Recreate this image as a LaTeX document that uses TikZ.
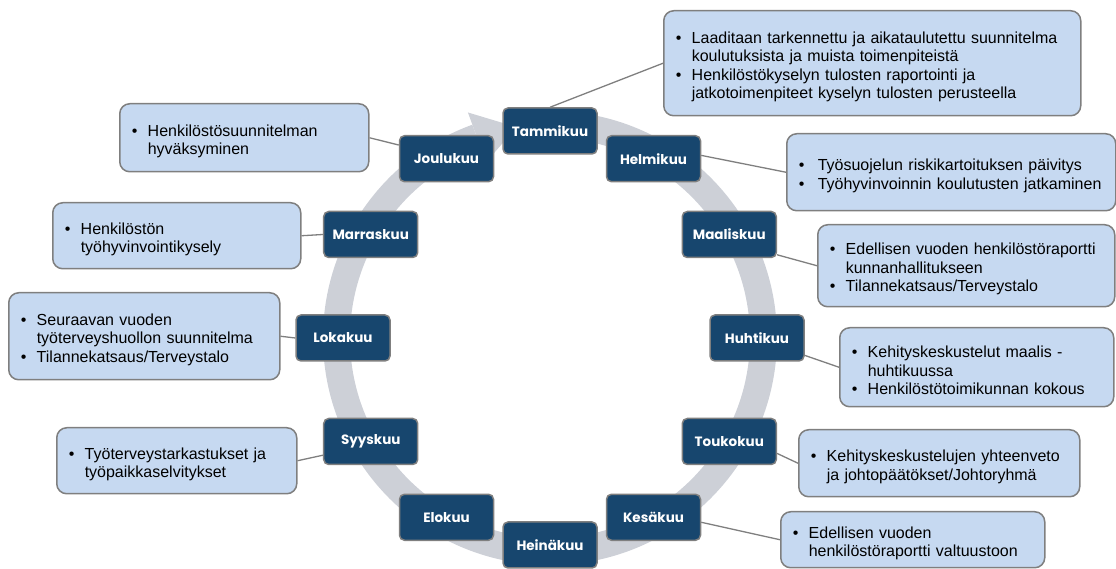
\documentclass[tikz,border=0pt]{standalone}
\usepackage{fontspec}
\setmainfont{Liberation Sans}
\newfontfamily\monthfont{Poppins}
\usetikzlibrary{calc}
\definecolor{monthblue}{HTML}{17466E}
\definecolor{calloutfill}{HTML}{C6D9F1}
\definecolor{edgegray}{HTML}{7F7F7F}
\definecolor{ringgray}{HTML}{CDD0D7}
\newcommand{\bitem}[1]{\par\hangindent=16pt\hangafter=1\noindent\makebox[16pt][l]{•}#1\par}
\pgfdeclarelayer{bg}
\pgfdeclarelayer{links}
\pgfsetlayers{bg,links,main}
\tikzset{
  month/.style={draw=edgegray, line width=1.5pt, fill=monthblue, rounded corners=5pt,
    minimum width=94pt, minimum height=46pt, inner sep=0pt, text=white,
    font=\monthfont\bfseries\fontsize{13.5}{16}\selectfont},
  callout/.style={draw=edgegray, line width=1.5pt, fill=calloutfill, rounded corners=10pt,
    inner xsep=12pt, inner ysep=0pt, align=left, anchor=north west,
    font=\fontsize{16}{18.5}\selectfont},
  link/.style={draw=edgegray, line width=1.3pt},
  ring/.style={draw=ringgray, line width=27pt},
  ringhead/.style={fill=ringgray, draw=none}
}
\begin{document}
\begin{tikzpicture}[x=1pt,y=1pt]
\useasboundingbox (0,0) rectangle (1116,569);
\coordinate (C) at (550,231);
% months
\node[month] (mTam) at ($(C)+(90:207)$) {Tammikuu};
\node[month] (mHel) at ($(C)+(60:207)$) {Helmikuu};
\node[month] (mMaa) at ($(C)+(30:207)$) {Maaliskuu};
\node[month] (mHuh) at ($(C)+(0:207)$) {Huhtikuu};
\node[month] (mTou) at ($(C)+(-30:207)$) {Toukokuu};
\node[month] (mKes) at ($(C)+(-60:207)$) {Kesäkuu};
\node[month] (mHei) at ($(C)+(-90:207)$) {Heinäkuu};
\node[month] (mElo) at ($(C)+(-120:207)$) {Elokuu};
\node[month] (mSyy) at ($(C)+(-150:207)$) {Syyskuu};
\node[month] (mLok) at ($(C)+(180:207)$) {Lokakuu};
\node[month] (mMar) at ($(C)+(150:207)$) {Marraskuu};
\node[month] (mJou) at ($(C)+(120:207)$) {Joulukuu};
% callouts
\node[callout, minimum width=417pt, minimum height=105pt, text width=393pt] (cTam) at (663,559)
  {\bitem{Laaditaan tarkennettu ja aikataulutettu suunnitelma\newline koulutuksista ja muista toimenpiteistä}
   \bitem{Henkilöstökyselyn tulosten raportointi ja\newline jatkotoimenpiteet kyselyn tulosten perusteella}};
\node[callout, minimum width=329pt, minimum height=77pt, text width=305pt, inner xsep=12pt] (cHel) at (786,436)
  {\bitem{\hspace*{3pt}Työsuojelun riskikartoituksen päivitys}
   \bitem{\hspace*{3pt}Työhyvinvoinnin koulutusten jatkaminen}};
\node[callout, minimum width=297pt, minimum height=82pt, text width=273pt] (cMaa) at (817,345)
  {\bitem{Edellisen vuoden henkilöstöraportti\newline kunnanhallitukseen}
   \bitem{Tilannekatsaus/Terveystalo}};
\node[callout, minimum width=274pt, minimum height=79pt, text width=250pt] (cHuh) at (839,242)
  {\bitem{Kehityskeskustelut maalis -\newline huhtikuussa}
   \bitem{Henkilöstötoimikunnan kokous}};
\node[callout, minimum width=281pt, minimum height=67pt, text width=257pt] (cTou) at (798,140)
  {\bitem{Kehityskeskustelujen yhteenveto\newline ja johtopäätökset/Johtoryhmä}};
\node[callout, minimum width=264pt, minimum height=56pt, text width=240pt] (cKes) at (780,58)
  {\bitem{Edellisen vuoden\newline henkilöstöraportti valtuustoon}};
\node[callout, minimum width=271pt, minimum height=87pt, text width=247pt] (cLok) at (8,277)
  {\bitem{Seuraavan vuoden\newline työterveyshuollon suunnitelma}
   \bitem{Tilannekatsaus/Terveystalo}};
\node[callout, minimum width=248pt, minimum height=66pt, text width=224pt] (cMar) at (52,367)
  {\bitem{Henkilöstön\newline työhyvinvointikysely}};
\node[callout, minimum width=249pt, minimum height=68pt, text width=225pt] (cJou) at (119,466)
  {\bitem{Henkilöstösuunnitelman\newline hyväksyminen}};
\node[callout, minimum width=240pt, minimum height=66pt, text width=216pt] (cSyy) at (56,142)
  {\bitem{Työterveystarkastukset ja\newline työpaikkaselvitykset}};
% ring
\begin{pgfonlayer}{bg}
  \draw[ring] ($(C)+(90:213.5)$) arc[start angle=90, end angle=-250, radius=213.5];
  \fill[ringhead] ($(C)+(110:240)$) -- ($(C)+(99:213.5)$) -- ($(C)+(110:187)$) -- cycle;
\end{pgfonlayer}
% connectors
\begin{pgfonlayer}{links}
  \draw[link] (mTam.north) -- (cTam.west);
  \draw[link] (mHel.4) -- (cHel.west);
  \draw[link] (mMaa.-23) -- (cMaa.west);
  \draw[link] (mHuh.-20) -- (cHuh.west);
  \draw[link] (mTou.-14) -- (cTou.west);
  \draw[link] (mKes.-6) -- (cKes.west);
  \draw[link] (mLok.west) -- (cLok.east);
  \draw[link] (mMar.west) -- (cMar.east);
  \draw[link] (mJou.164) -- (cJou.east);
  \draw[link] (mSyy.196) -- (cSyy.east);
\end{pgfonlayer}
\end{tikzpicture}
\end{document}
